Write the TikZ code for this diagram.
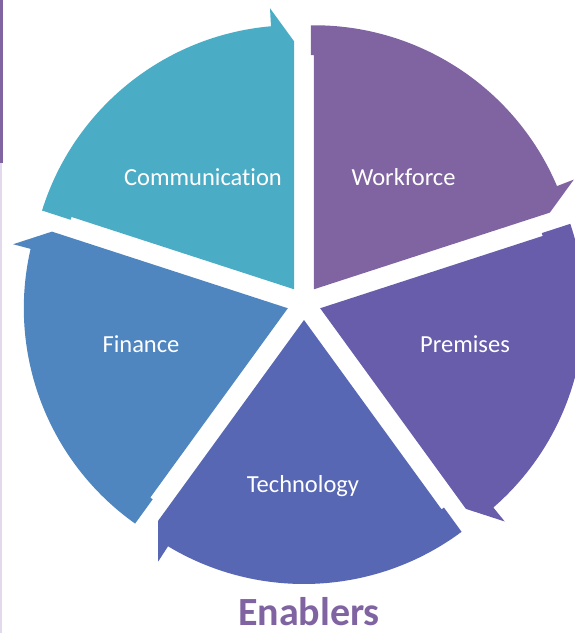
\documentclass[tikz,border=0pt]{standalone}
\usepackage{fontspec}
\setmainfont{Carlito}[Ligatures=NoCommon]
\definecolor{cWork}{HTML}{8064A2}
\definecolor{cPrem}{HTML}{675DAB}
\definecolor{cTech}{HTML}{5767B3}
\definecolor{cFin}{HTML}{4F86BF}
\definecolor{cComm}{HTML}{4BACC6}
\definecolor{cLav}{HTML}{E2DAEC}
\tikzset{
  lbl/.style={text=white, font=\fontsize{24.5}{28}\selectfont, anchor=base, inner sep=0pt},
  ttl/.style={text=cWork, font=\fontsize{40}{44}\selectfont\bfseries, anchor=base, inner sep=0pt},
}
\begin{document}
\begin{tikzpicture}[x=1pt,y=1pt]
\useasboundingbox (-304,-330) rectangle (270,303);
% left edge line
\fill[cWork] (-304,303) rectangle (-301.3,140);
\fill[cLav] (-304,140) rectangle (-301.7,-330);
% segments
\foreach \te/\col in {72/cWork,144/cPrem,216/cTech,288/cFin,360/cComm}{
  \pgfmathsetmacro\ab{126-\te}
  \begin{scope}[shift={(\ab:17)}, rotate=-\te]
    \fill[\col] (0,0) -- (0,248) -- (-24,281) -- (95:264)
      arc[start angle=95, end angle=162.65, radius=264]
      -- (-223.47,69.46) -- (-222.55,72.31) -- cycle;
  \end{scope}
}
% labels
\node[lbl] (comm) at (-101,118) {Communication};
\node[lbl] (work) at (99.5,118) {Workforce};
\node[lbl] (prem) at (161,-49) {Premises};
\node[lbl] (fin) at (-163,-49) {Finance};
\node[lbl] (tech) at (-1,-189) {Technology};
\node[ttl] (title) at (5,-322.5) {Enablers};
\end{tikzpicture}
\end{document}
